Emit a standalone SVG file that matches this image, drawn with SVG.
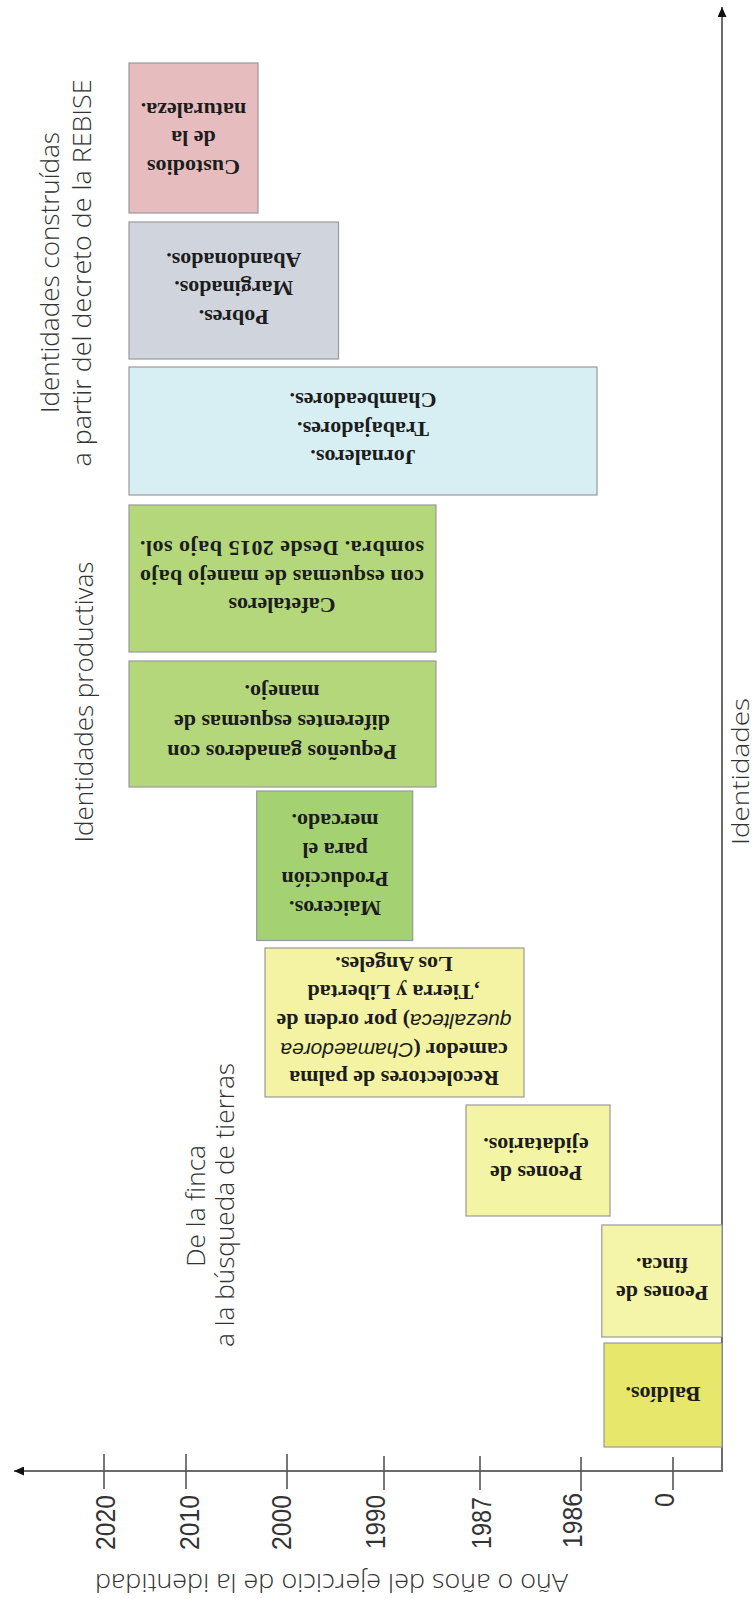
<svg xmlns="http://www.w3.org/2000/svg" width="755" height="1599" viewBox="0 0 755 1599">
<defs>
<style>
.lbl{font-family:"Open Sans","Liberation Sans",sans-serif;font-weight:300;font-size:25px;fill:#333;text-anchor:middle}
.tick{font-family:"Liberation Sans",Arial,sans-serif;font-size:28px;fill:#333;text-anchor:end}
.bt{font-family:"Liberation Serif","Times New Roman",serif;font-weight:bold;font-size:22px;fill:#1c1c1c;text-anchor:middle}
.it{font-family:"Liberation Sans",Arial,sans-serif;font-style:italic;font-weight:normal;font-size:21px}
.box{stroke:#999;stroke-width:1.2}
.tk{stroke:#555;stroke-width:1.6}
.axis{fill:none;stroke:#6b6b6b;stroke-width:2}
</style>
<marker id="arr" viewBox="0 0 10 9" refX="10" refY="4.5" markerWidth="10" markerHeight="9" markerUnits="userSpaceOnUse" orient="auto-start-reverse">
<path d="M0,0 L10,4.5 L0,9 z" fill="#111"/>
</marker>
</defs>
<rect x="0" y="0" width="755" height="1599" fill="#fff"/>

<g id="connectors">
<path class="axis" d="M722,7 V1471 H14" marker-start="url(#arr)" marker-end="url(#arr)"/>
</g>

<g id="axis-ticks">
<line class="tk" x1="104" y1="1454" x2="104" y2="1489"/>
<line class="tk" x1="186" y1="1454" x2="186" y2="1489"/>
<line class="tk" x1="287" y1="1454" x2="287" y2="1489"/>
<line class="tk" x1="384" y1="1456" x2="384" y2="1490"/>
<line class="tk" x1="480" y1="1456" x2="480" y2="1490"/>
<line class="tk" x1="581" y1="1457" x2="581" y2="1491"/>
<line class="tk" x1="673" y1="1457" x2="673" y2="1490"/>
<text class="tick" transform="translate(115,1495) rotate(-90)" textLength="55" lengthAdjust="spacingAndGlyphs">2020</text>
<text class="tick" transform="translate(199,1495) rotate(-90)" textLength="55" lengthAdjust="spacingAndGlyphs">2010</text>
<text class="tick" transform="translate(291,1495) rotate(-90)" textLength="55" lengthAdjust="spacingAndGlyphs">2000</text>
<text class="tick" transform="translate(385,1495) rotate(-90)" textLength="54" lengthAdjust="spacingAndGlyphs">1990</text>
<text class="tick" transform="translate(491,1497) rotate(-90)" textLength="52" lengthAdjust="spacingAndGlyphs">1987</text>
<text class="tick" transform="translate(582,1493) rotate(-90)" textLength="55" lengthAdjust="spacingAndGlyphs">1986</text>
<text class="tick" transform="translate(674,1493) rotate(-90)" textLength="14" lengthAdjust="spacingAndGlyphs">0</text>
<text class="lbl" transform="translate(331.5,1573.5) rotate(180)" style="font-size:26px" textLength="473" lengthAdjust="spacingAndGlyphs">Año o años del ejercicio de la identidad</text>
</g>

<g id="labels">
<text class="lbl" transform="translate(59,272.5) rotate(-90)" textLength="281" lengthAdjust="spacingAndGlyphs">Identidades construídas</text>
<text class="lbl" transform="translate(91,273) rotate(-90)" textLength="387" lengthAdjust="spacingAndGlyphs">a partir del decreto de la REBISE</text>
<text class="lbl" transform="translate(92.5,702) rotate(-90)" textLength="281" lengthAdjust="spacingAndGlyphs">Identidades productivas</text>
<text class="lbl" transform="translate(204.5,1206) rotate(-90)" textLength="122" lengthAdjust="spacingAndGlyphs">De la finca</text>
<text class="lbl" transform="translate(233.5,1205) rotate(-90)" textLength="284" lengthAdjust="spacingAndGlyphs">a la búsqueda de tierras</text>
<text class="lbl" transform="translate(749,771.5) rotate(-90)" style="font-size:24px" textLength="147" lengthAdjust="spacingAndGlyphs">Identidades</text>
</g>

<g id="custodios">
<rect class="box" x="129" y="63" width="129" height="150" fill="#e6bcbe"/>
<text class="bt" transform="rotate(180 193.5 138)"><tspan x="193.5" y="116.5">Custodios</tspan><tspan x="193.5" y="145">de la</tspan><tspan x="193.5" y="173.5">naturaleza.</tspan></text>
</g>

<g id="pobres">
<rect class="box" x="129" y="222" width="209.5" height="137" fill="#cfd4dd"/>
<text class="bt" transform="rotate(180 233.7 288.3)"><tspan x="233.7" y="267">Pobres.</tspan><tspan x="233.7" y="295.3">Marginados.</tspan><tspan x="233.7" y="323.6">Abandonados.</tspan></text>
</g>

<g id="jornaleros">
<rect class="box" x="129" y="367" width="468" height="128" fill="#d7eef2"/>
<text class="bt" transform="rotate(180 363 428.5)"><tspan x="363" y="407.2">Jornaleros.</tspan><tspan x="363" y="435.5">Trabajadores.</tspan><tspan x="363" y="463.8">Chambeadores.</tspan></text>
</g>

<g id="cafetaleros">
<rect class="box" x="129" y="505" width="307" height="147" fill="#b4d77c"/>
<g transform="rotate(180 282 576.7)">
<text class="bt" x="282" y="555.4">Cafetaleros</text>
<text class="bt" x="282" y="583.7" textLength="284" lengthAdjust="spacing">con esquemas de manejo  bajo</text>
<text class="bt" x="282" y="612" textLength="284" lengthAdjust="spacing">sombra. Desde 2015 bajo sol.</text>
</g>
</g>

<g id="ganaderos">
<rect class="box" x="129" y="661" width="307" height="126" fill="#b4d77c"/>
<text class="bt" transform="rotate(180 282 721.7)"><tspan x="282" y="698.7">Pequeños ganaderos con</tspan><tspan x="282" y="728.7">diferentes esquemas de</tspan><tspan x="282" y="758.7">manejo.</tspan></text>
</g>

<g id="maiceros">
<rect class="box" x="256.7" y="791" width="156" height="149.5" fill="#a4d172"/>
<text class="bt" transform="rotate(180 335 864.5)"><tspan x="335" y="828">Maiceros.</tspan><tspan x="335" y="857">Producción</tspan><tspan x="335" y="886">para el</tspan><tspan x="335" y="915">mercado.</tspan></text>
</g>

<g id="recolectores">
<rect class="box" x="265" y="948" width="259" height="149" fill="#f3f3a3"/>
<g transform="rotate(180 394 1021)">
<text class="bt" x="394" y="970.6">Recolectores de palma</text>
<text class="bt" x="394" y="999.3">camedor (<tspan class="it">Chamaedorea</tspan></text>
<text class="bt" x="394" y="1028"><tspan class="it">quezalteca</tspan>) por orden de</text>
<text class="bt" x="394" y="1056.7">‚Tierra y Libertad</text>
<text class="bt" x="394" y="1085.4">Los Angeles.</text>
</g>
</g>

<g id="ejidatarios">
<rect class="box" x="466" y="1105" width="144" height="111" fill="#f4f4a5"/>
<text class="bt" transform="rotate(180 536 1159)"><tspan x="536" y="1151.9">Peones de</tspan><tspan x="536" y="1180.2">ejidatarios.</tspan></text>
</g>

<g id="finca">
<rect class="box" x="601.8" y="1225" width="120.2" height="112" fill="#f5f5aa"/>
<text class="bt" transform="rotate(180 662 1279)"><tspan x="662" y="1271.9">Peones de</tspan><tspan x="662" y="1300.2">finca.</tspan></text>
</g>

<g id="baldios">
<rect class="box" x="604" y="1343" width="118" height="104" fill="#e7e76c"/>
<text class="bt" x="663" y="1401" transform="rotate(180 663 1394)">Baldíos.</text>
</g>
</svg>
